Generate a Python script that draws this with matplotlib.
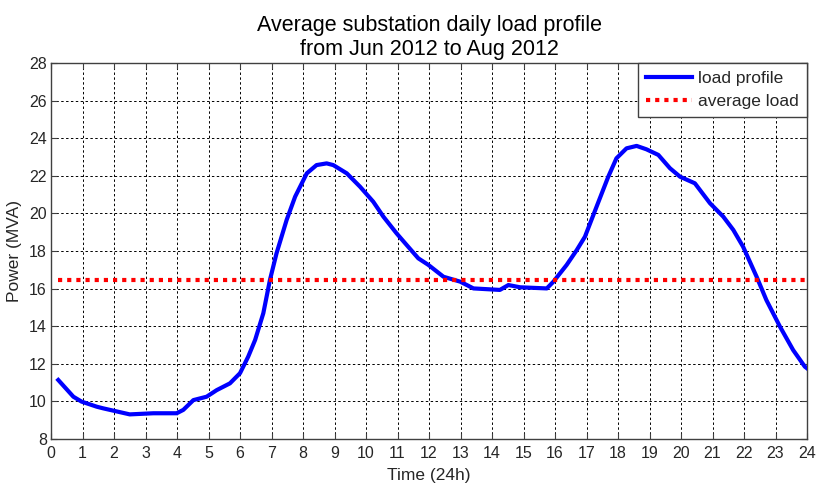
import numpy as np
import matplotlib.pyplot as plt

plt.rcParams['font.family'] = ['Liberation Sans', 'DejaVu Sans']

# hour of day vs substation load (MVA)
hours = [0.23, 0.71, 0.97, 1.45, 1.66, 2.5, 3.25, 3.99, 4.2, 4.52, 4.94,
         5.26, 5.68, 6.0, 6.26, 6.48, 6.74, 6.95, 7.16, 7.48, 7.75, 8.12,
         8.43, 8.75, 8.96, 9.39, 9.81, 10.23, 10.55, 10.97, 11.29, 11.66,
         11.98, 12.46, 12.99, 13.41, 14.25, 14.52, 14.89, 15.74, 15.95,
         16.37, 16.69, 16.95, 17.32, 17.69, 17.95, 18.27, 18.59, 18.9,
         19.28, 19.65, 19.97, 20.44, 20.92, 21.34, 21.66, 21.97, 22.4,
         22.71, 23.14, 23.56, 23.93, 24.0]
load = [11.14, 10.25, 9.99, 9.72, 9.63, 9.31, 9.37, 9.37, 9.55, 10.07, 10.25,
        10.6, 10.96, 11.5, 12.38, 13.27, 14.69, 16.46, 17.88, 19.65, 20.89, 22.13,
        22.57, 22.66, 22.57, 22.13, 21.42, 20.62, 19.83, 18.94, 18.32, 17.61,
        17.26, 16.63, 16.37, 16.01, 15.93, 16.19, 16.07, 16.01, 16.37,
        17.26, 18.05, 18.76, 20.36, 21.95, 22.93, 23.46, 23.59, 23.41,
        23.11, 22.4, 21.95, 21.6, 20.54, 19.83, 19.12, 18.23, 16.63,
        15.39, 13.98, 12.73, 11.85, 11.76]
avg_load = 16.46

x_ticks = list(range(0, 25))
y_ticks = list(range(8, 29, 2))

text_col = '#262626'
frame_col = '#404040'

fig = plt.figure(figsize=(8.16, 4.94), dpi=100)
ax = fig.add_axes([0.0625, 0.1113, 0.9265, 0.7612])

ax.plot(hours, load, color='#0000ff', linewidth=3, label='load profile', zorder=3)
ax.plot([hours[0], 24], [avg_load, avg_load], color='#ff0000', linewidth=3,
        linestyle=(0, (1, 1.2)), label='average load', zorder=3)

ax.set_xlim(0, 24)
ax.set_ylim(8, 28)
ax.set_xticks(x_ticks)
ax.set_yticks(y_ticks)
ax.tick_params(direction='in', labelsize=11.5, length=4, top=True, right=True,
               colors=frame_col, labelcolor=text_col)
ax.tick_params(axis='x', pad=5)
ax.tick_params(axis='y', pad=3)
ax.grid(True, color='black', linestyle=(0, (2.5, 2.5)), linewidth=0.7)
for sp in ax.spines.values():
    sp.set_linewidth(1)
    sp.set_color(frame_col)

ax.set_xlabel('Time (24h)', fontsize=12.5, labelpad=5, color=text_col)
ax.set_ylabel('Power (MVA)', fontsize=12.5, labelpad=5, color=text_col)
ax.set_title('Average substation daily load profile\nfrom Jun 2012 to Aug 2012',
             fontsize=15.5, pad=6, color='black', linespacing=1.15)

leg = ax.legend(loc='upper right', fontsize=12.5, fancybox=False, framealpha=1,
                edgecolor=frame_col, borderaxespad=0, handlelength=2.7,
                handletextpad=0.35, borderpad=0.45, labelspacing=0.45)
leg.get_frame().set_linewidth(1)
for t in leg.get_texts():
    t.set_color(text_col)

fig.savefig('out.png', dpi=100)
